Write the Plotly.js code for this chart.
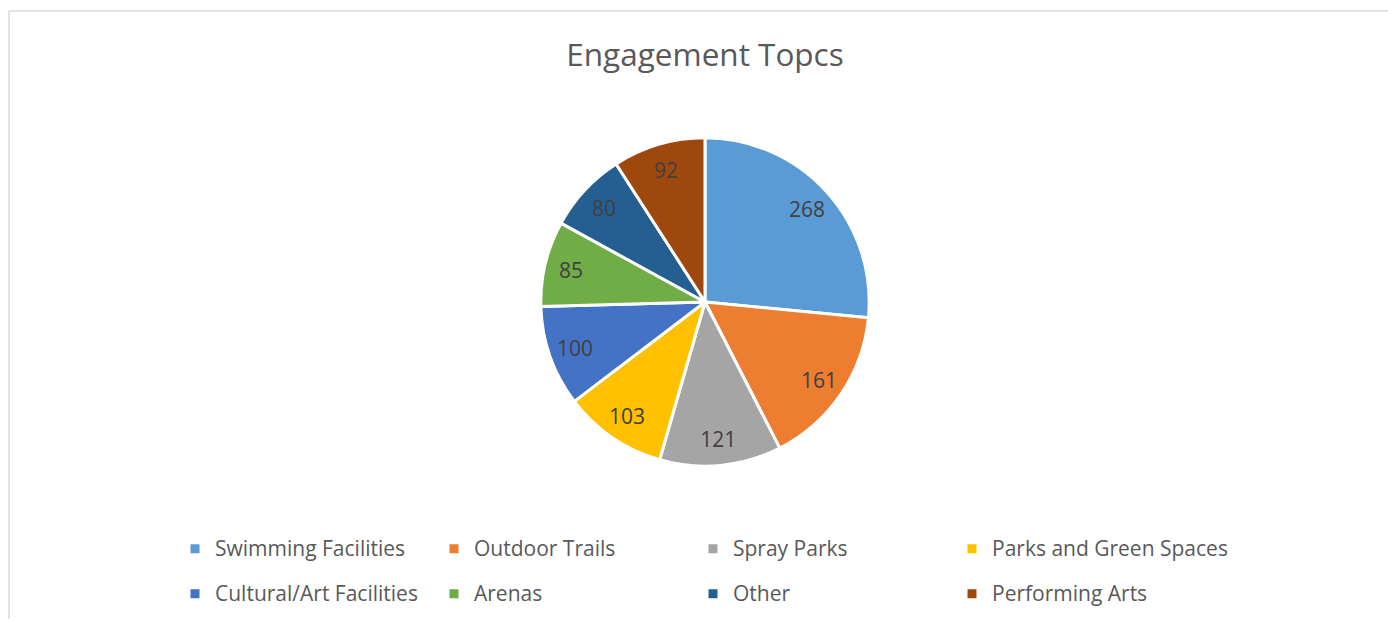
<!DOCTYPE html>
<html>
<head>
<meta charset="utf-8">
<script src="https://cdn.plot.ly/plotly-3.0.1.min.js"></script>
<style>
  html, body { margin: 0; padding: 0; background: #ffffff; overflow: hidden; }
  #chart { width: 1388px; height: 622px; }
</style>
</head>
<body>
<div id="chart"></div>
<script>
const categories = ["Swimming Facilities", "Outdoor Trails", "Spray Parks", "Parks and Green Spaces",
                    "Cultural/Art Facilities", "Arenas", "Other", "Performing Arts"];
const values = [268, 161, 121, 103, 100, 85, 80, 92];
const colors = ["#5B9BD5", "#ED7D31", "#A5A5A5", "#FFC000", "#4472C4", "#70AD47", "#255E91", "#9E480E"];
const chartTitle = "Engagement Topcs";

const W = 1388, H = 622;
const M = { l: 0, r: 238, t: 0, b: 20 };
const GW = W - M.l - M.r, GH = H - M.t - M.b;
const px2x = px => (px - M.l) / GW;
const px2y = py => 1 - (py - M.t) / GH;

const cx = 705, cy = 303.5, R = 165;
const FONT = "'Open Sans', 'Noto Sans', sans-serif";
const pieDomain = { x: [px2x(cx - R), px2x(cx + R)], y: [px2y(cy + R), px2y(cy - R)] };

// legend entries: 21px text inside a taller legend line so rows are spaced like the reference
const legendLabels = categories.map(c => '<span style="font-size:21px;baseline-shift:5px">' + c + '</span>');

const pieTrace = {
  type: "pie",
  labels: legendLabels,
  values: values,
  sort: false,
  direction: "clockwise",
  rotation: 0,
  marker: { colors: colors, line: { color: "#ffffff", width: 3 } },
  textinfo: "none",
  hoverinfo: "skip",
  domain: pieDomain
};

// transparent ring on top that carries the data labels near the rim
const labelTrace = {
  type: "pie",
  labels: legendLabels,
  values: values,
  sort: false,
  direction: "clockwise",
  rotation: 0,
  hole: 0.68,
  showlegend: false,
  marker: { colors: categories.map(() => "rgba(0,0,0,0)"), line: { width: 0 } },
  textinfo: "value",
  textposition: "inside",
  insidetextorientation: "horizontal",
  textfont: { family: FONT, size: 21, color: "#404040" },
  hoverinfo: "skip",
  domain: pieDomain
};

const layout = {
  width: W, height: H,
  margin: M,
  paper_bgcolor: "#ffffff",
  plot_bgcolor: "#ffffff",
  font: { family: FONT, color: "#595959" },
  title: {
    text: chartTitle,
    font: { family: FONT, size: 31.5, color: "#595959" },
    x: 705 / W, xanchor: "center",
    y: 1 - 55 / H, yanchor: "middle", yref: "container", xref: "container"
  },
  showlegend: true,
  legend: {
    orientation: "h",
    x: px2x(175), xanchor: "left",
    y: px2y(522.5), yanchor: "top",
    font: { family: FONT, size: 32.3, color: "#595959" },
    entrywidth: 214, entrywidthmode: "pixels",
    itemwidth: 30,
    traceorder: "normal",
    bgcolor: "rgba(0,0,0,0)",
    // an empty, hair-thin title that only widens the legend box so the last column is not clipped
    title: { text: "\u00a0".repeat(4200), side: "top", font: { size: 1, family: FONT } }
  },
  shapes: [
    { type: "line", xref: "paper", yref: "paper", x0: px2x(9), x1: px2x(W), y0: px2y(11), y1: px2y(11),
      line: { color: "#d9d9d9", width: 1.5 } },
    { type: "line", xref: "paper", yref: "paper", x0: px2x(9), x1: px2x(9), y0: px2y(H), y1: px2y(11),
      line: { color: "#d9d9d9", width: 1.5 } }
  ]
};

Plotly.newPlot("chart", [pieTrace, labelTrace], layout, { displayModeBar: false, responsive: false });
</script>
</body>
</html>
